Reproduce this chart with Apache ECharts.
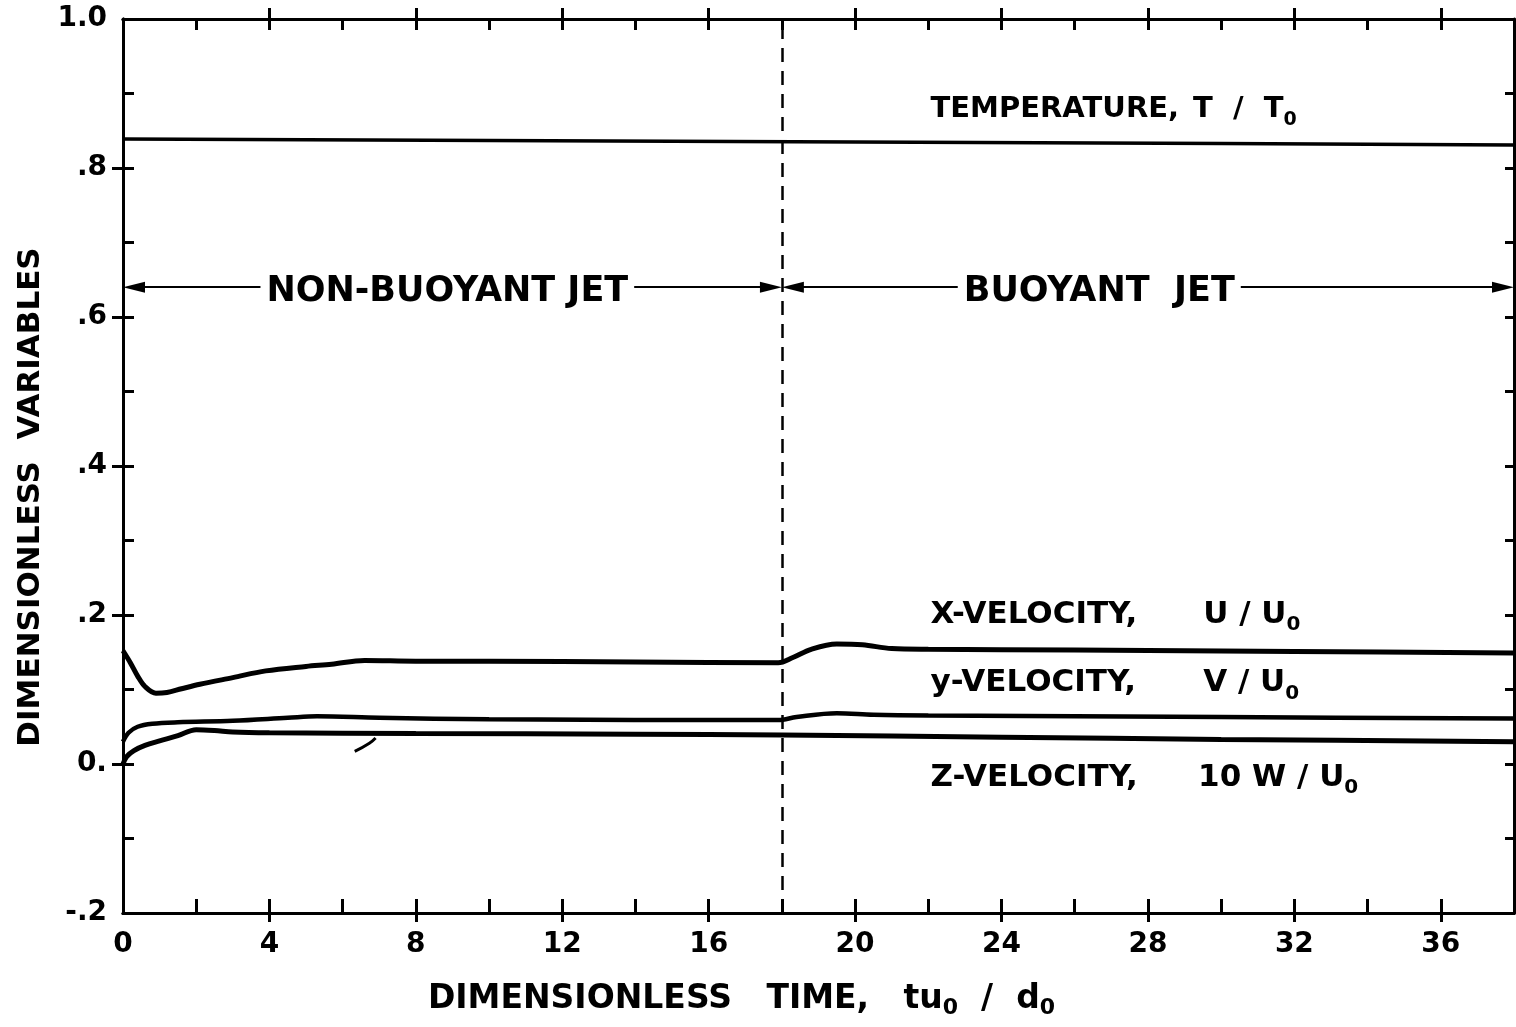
<!DOCTYPE html>
<html>
<head>
<meta charset="utf-8">
<script src="https://cdn.jsdelivr.net/npm/echarts@6/dist/echarts.min.js"></script>
<style>
html, body { margin: 0; padding: 0; background: #fff; }
#chart { width: 1516px; height: 1027px; }
</style>
</head>
<body>
<div id="chart"></div>
<script>
// values: [dimensionless time, value]
const temperature = [[0, 0.839], [10, 0.837], [20, 0.835], [30, 0.833], [38, 0.831]]
const xVelocity = [
    [0, 0.152], [0.2, 0.136], [0.4, 0.118], [0.6, 0.104], [0.9, 0.095], [1.2, 0.096],
    [1.6, 0.101], [2.1, 0.107], [3, 0.116], [3.9, 0.125], [5, 0.131], [5.7, 0.134],
    [6.6, 0.139], [8, 0.138], [10, 0.138], [14, 0.137], [17.9, 0.136], [18.3, 0.143],
    [18.8, 0.154], [19.5, 0.161], [20.2, 0.160], [21, 0.155], [22, 0.154], [26, 0.153],
    [32, 0.151], [38, 0.149]
]
const yVelocity = [
    [0, 0.030], [0.15, 0.042], [0.4, 0.050], [0.8, 0.054], [1.5, 0.056], [3, 0.058],
    [4.5, 0.062], [5.3, 0.064], [7, 0.062], [10, 0.060], [17.9, 0.059], [18.4, 0.063],
    [19.5, 0.068], [20.5, 0.066], [22, 0.065], [30, 0.063], [38, 0.061]
]
const zVelocity = [
    [0, 0.000], [0.1, 0.010], [0.3, 0.018], [0.6, 0.025], [1.0, 0.031], [1.5, 0.038],
    [2.0, 0.046], [2.5, 0.045], [3.0, 0.043], [4, 0.042], [8, 0.041], [14, 0.040],
    [18, 0.039], [24, 0.036], [30, 0.033], [38, 0.030]
]
const strayMark = [[6.33, 0.017], [6.73, 0.028], [6.9, 0.035]]

const regimeSplit = 18
const arrowLevel = 0.64

const xLabelValues = [0, 4, 8, 12, 16, 20, 24, 28, 32, 36]
const xOuterTicks = [4, 8, 12, 16, 20, 24, 28, 32, 36]
const xInnerTicks = [2, 4, 6, 8, 10, 12, 14, 16, 18, 20, 22, 24, 26, 28, 30, 32, 34, 36]
const yLabelValues = [-0.2, 0, 0.2, 0.4, 0.6, 0.8, 1.0]
const yLabelTexts = ['-.2', '0.', '.2', '.4', '.6', '.8', '1.0']
const yOuterTicks = [0, 0.2, 0.4, 0.6, 0.8]
const yInnerTicks = [-0.1, 0, 0.1, 0.2, 0.3, 0.4, 0.5, 0.6, 0.7, 0.8, 0.9]

const font = '"DejaVu Sans", sans-serif'
const ink = '#000'

function richFor(size) {
    return {
        m: { fontFamily: font, fontWeight: 'bold', fontSize: size, color: ink, lineHeight: 40 },
        s: { fontFamily: font, fontWeight: 'bold', fontSize: Math.round(size * 0.66), color: ink, lineHeight: 20, verticalAlign: 'bottom' }
    }
}

function xAxisDef(position, ticks, inside, len, labels) {
    return {
        type: 'value', position: position, min: 0, max: 38, interval: 2,
        axisLine: { show: true, onZero: false, lineStyle: { color: ink, width: 3 } },
        axisTick: { show: true, inside: inside, length: len, customValues: ticks, lineStyle: { color: ink, width: 3 } },
        axisLabel: labels ? {
            show: true, customValues: xLabelValues, margin: 18,
            fontFamily: font, fontWeight: 'bold', fontSize: 28, color: ink
        } : { show: false },
        splitLine: { show: false }
    }
}

function yAxisDef(position, ticks, inside, len, labels) {
    return {
        type: 'value', position: position, min: -0.2, max: 1.0, interval: 0.1,
        axisLine: { show: true, onZero: false, lineStyle: { color: ink, width: 3 } },
        axisTick: { show: true, inside: inside, length: len, customValues: ticks, lineStyle: { color: ink, width: 3 } },
        axisLabel: labels ? {
            show: true, customValues: yLabelValues, margin: 16,
            fontFamily: font, fontWeight: 'bold', fontSize: 28, color: ink,
            formatter: function (v) {
                const i = yLabelValues.findIndex(t => Math.abs(t - v) < 1e-6)
                return i >= 0 ? yLabelTexts[i] : ''
            }
        } : { show: false },
        splitLine: { show: false }
    }
}

const xAxes = [
    xAxisDef('bottom', xInnerTicks, true, 14, false),
    xAxisDef('bottom', xOuterTicks, false, 9, true),
    xAxisDef('top', xInnerTicks, true, 11, false),
    xAxisDef('top', xOuterTicks, false, 11, false)
]
xAxes[1].name = '{m|DIMENSIONLESS   TIME,   tu}{s|0}{m|  /  d}{s|0}'
xAxes[1].nameLocation = 'middle'
xAxes[1].nameGap = 66
xAxes[1].nameTextStyle = { rich: richFor(33), padding: [0, 154, 0, 0] }

const yAxes = [
    yAxisDef('left', yInnerTicks, true, 11, false),
    yAxisDef('left', yOuterTicks, false, 11, true),
    yAxisDef('right', yInnerTicks, true, 9, false)
]
yAxes[1].name = 'DIMENSIONLESS  VARIABLES'
yAxes[1].nameLocation = 'middle'
yAxes[1].nameGap = 76
yAxes[1].nameTextStyle = { fontFamily: font, fontWeight: 'bold', fontSize: 31, color: ink, padding: [0, 62, 0, 0] }

function curveLabel(x, y, text, size) {
    return {
        coord: [x, y], symbolSize: 0,
        label: { show: true, position: 'right', distance: 0, offset: [0, 5], formatter: text, rich: richFor(size) }
    }
}

function regimeLabel(x, text) {
    return {
        coord: [x, arrowLevel], symbolSize: 0,
        label: {
            show: true, position: 'inside', offset: [0, 5], formatter: text, backgroundColor: '#fff', padding: [2, 6],
            fontFamily: font, fontWeight: 'bold', fontSize: 35, color: ink
        }
    }
}

const lineStyle = w => ({ color: ink, width: w })

const option = {
    animation: false,
    backgroundColor: '#fff',
    grid: { left: 123, right: 2, top: 19, bottom: 114 },
    xAxis: xAxes,
    yAxis: yAxes,
    series: [
        {
            name: 'T/T0', type: 'line', data: temperature, showSymbol: false,
            lineStyle: lineStyle(3.5),
            markLine: {
                silent: true, symbol: 'none', label: { show: false },
                lineStyle: { color: ink, width: 2.5, type: [14, 9] },
                data: [{ xAxis: regimeSplit }]
            }
        },
        {
            name: 'U/U0', type: 'line', data: xVelocity, showSymbol: false, smooth: 0.35,
            lineStyle: lineStyle(5)
        },
        {
            name: 'V/U0', type: 'line', data: yVelocity, showSymbol: false, smooth: 0.35,
            lineStyle: lineStyle(4.5)
        },
        {
            name: '10W/U0', type: 'line', data: zVelocity, showSymbol: false, smooth: 0.35,
            lineStyle: lineStyle(5),
            markLine: {
                silent: true, symbol: ['triangle', 'triangle'], symbolSize: [11, 22],
                label: { show: false },
                lineStyle: { color: ink, width: 2, type: 'solid' },
                data: [
                    [{ coord: [0.3, arrowLevel] }, { coord: [regimeSplit - 0.3, arrowLevel] }],
                    [{ coord: [regimeSplit + 0.3, arrowLevel] }, { coord: [37.7, arrowLevel] }]
                ]
            },
            markPoint: {
                silent: true, z: 10, symbol: 'rect',
                data: [
                    regimeLabel(8.86, 'NON-BUOYANT JET'),
                    regimeLabel(26.67, 'BUOYANT  JET'),
                    curveLabel(22.06, 0.885, '{m|TEMPERATURE,}', 29),
                    curveLabel(29.23, 0.885, '{m|T  /  T}{s|0}', 29),
                    curveLabel(22.06, 0.207, '{m|X-VELOCITY,}', 31),
                    curveLabel(29.51, 0.207, '{m|U / U}{s|0}', 31),
                    curveLabel(22.06, 0.115, '{m|y-VELOCITY,}', 31),
                    curveLabel(29.51, 0.115, '{m|V / U}{s|0}', 31),
                    curveLabel(22.06, -0.012, '{m|Z-VELOCITY,}', 31),
                    curveLabel(29.37, -0.012, '{m|10 W / U}{s|0}', 31)
                ]
            }
        },
        {
            name: 'mark', type: 'line', data: strayMark, showSymbol: false, smooth: true,
            lineStyle: lineStyle(3)
        }
    ]
}

const myChart = echarts.init(document.getElementById('chart'))
myChart.setOption(option)
</script>
</body>
</html>
